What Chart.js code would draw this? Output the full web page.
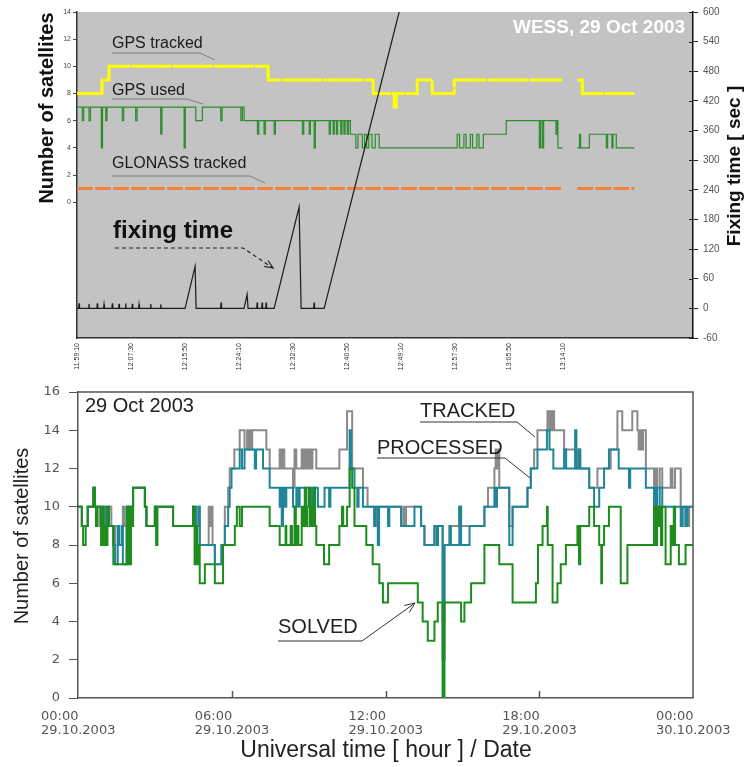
<!DOCTYPE html>
<html>
<head>
<meta charset="utf-8">
<title>Number of satellites, 29 Oct 2003</title>
<script src="https://cdn.jsdelivr.net/npm/chart.js@4.4.0/dist/chart.umd.min.js"></script>
<style>
  html, body { margin: 0; padding: 0; background: #fff; }
  #wrap { position: relative; width: 747px; height: 767px; }
  #top { position: absolute; left: 0; top: 0; }
  #bottom { position: absolute; left: 0; top: 375px; }
</style>
</head>
<body>
<div id="wrap">
  <canvas id="top" width="747" height="375"></canvas>
  <canvas id="bottom" width="747" height="392"></canvas>
</div>
<script>
Chart.defaults.font.family = 'Arial, "Liberation Sans", Helvetica, sans-serif';

// top panel: seconds after 11:59:10, [t, value]
const topTickLabels = ['11:59:10', '12:07:30', '12:15:50', '12:24:10', '12:32:30',
                       '12:40:50', '12:49:10', '12:57:30', '13:05:50', '13:14:10'];
const topTickStep = 500;

const gpsTracked = [[0, 8], [231, 9], [296, 10], [1769, 9], [2741, 8], [2935, 7], [2954, 8],
  [3148, 9], [3287, 8], [3491, 9], [4491, 9], [4500, null], [4630, 9], [4676, 8], [5157, 8]];

const gpsUsed = [[0, 7], [49, 6], [62, 7], [111, 6], [125, 7], [225, 4], [236, 7], [266, 6], [278, 7],
  [419, 6], [432, 7], [543, 6], [556, 7], [775, 5], [786, 7], [991, 4], [1002, 7], [1099, 6], [1160, 7],
  [1330, 6], [1343, 7], [1516, 6], [1530, 7], [1546, 6], [1670, 5], [1682, 6], [1731, 5], [1743, 6],
  [1824, 5], [1836, 6], [2086, 5], [2098, 6], [2148, 5], [2160, 6], [2194, 4], [2206, 6], [2333, 5],
  [2345, 6], [2370, 5], [2380, 6], [2400, 5], [2412, 6], [2440, 5], [2452, 6], [2470, 5], [2480, 6],
  [2500, 5], [2512, 6], [2530, 5], [2580, 4], [2600, 5], [2640, 4], [2660, 5], [2680, 4], [2700, 5],
  [2730, 4], [2760, 5], [2796, 4], [3518, 5], [3540, 4], [3580, 5], [3600, 4], [3640, 5], [3660, 4],
  [3700, 5], [3720, 4], [3760, 5], [3972, 6], [4278, 4], [4290, 6], [4306, 4], [4318, 6], [4432, 5],
  [4444, 6], [4450, 4], [4491, 4], [4500, null], [4630, 4], [4650, 5], [4660, 4], [4741, 5], [4898, 4],
  [4910, 5], [4950, 4], [4960, 5], [4990, 4], [5157, 4]];

const glonassTracked = [[0, 1], [4491, 1], [4500, null], [4630, 1], [5157, 1]];

const fixingTime = [[0, 0], [15, 0], [19, 10], [23, 0], [107, 0], [111, 9], [115, 0], [184, 0], [188, 10],
  [192, 0], [246, 0], [250, 8], [254, 0], [323, 0], [327, 10], [331, 0], [385, 0], [389, 9], [393, 0],
  [447, 0], [451, 10], [455, 0], [508, 0], [512, 9], [516, 0], [570, 0], [574, 8], [578, 0], [678, 0],
  [682, 9], [686, 0], [771, 0], [775, 8], [779, 0], [1000, 0], [1093, 85], [1102, 0], [1329, 0],
  [1333, 12], [1337, 0], [1546, 0], [1574, 28], [1583, 0], [1663, 0], [1667, 12], [1671, 0], [1709, 0],
  [1713, 12], [1717, 0], [1746, 0], [1750, 12], [1754, 0], [1824, 0], [2055, 205], [2074, 0], [2190, 0],
  [2194, 12], [2198, 0], [2287, 0], [2981, 600]];

// bottom panel: hours UT, [h, value]
const hourTicks = [0, 6, 12, 18, 24];
const hourTickLabels = [['00:00', '29.10.2003'], ['06:00', '29.10.2003'], ['12:00', '29.10.2003'],
                        ['18:00', '29.10.2003'], ['00:00', '30.10.2003']];

const solved = [[0, 10], [0.15, 9], [0.2, 8], [0.3, 9], [0.38, 10], [0.6, 11], [0.66, 10], [0.7, 9],
  [0.76, 10], [0.9, 8], [0.95, 10], [1.0, 8], [1.05, 9], [1.1, 8], [1.15, 10], [1.2, 9], [1.38, 7],
  [1.9, 10], [1.95, 7], [2.0, 10], [2.03, 7], [2.07, 10], [2.1, 9], [2.15, 11], [2.61, 10], [2.67, 9],
  [3.0, 10], [3.05, 8], [3.1, 10], [3.71, 9], [4.49, 10], [4.55, 7], [4.6, 9], [4.65, 7], [4.7, 8],
  [4.75, 6], [4.95, 7], [5.34, 6], [5.66, 8], [6.12, 9], [6.2, 10], [6.31, 9], [6.4, 10], [7.48, 9],
  [7.87, 8], [8.1, 9], [8.13, 8], [8.3, 9], [8.35, 8], [8.45, 10], [8.5, 8], [8.55, 9], [8.6, 8],
  [8.73, 10], [8.8, 9], [8.85, 11], [8.9, 9], [8.95, 10], [9.0, 11], [9.05, 9], [9.1, 10], [9.15, 9],
  [9.2, 11], [9.25, 9], [9.3, 8], [9.6, 7], [9.8, 8], [10.2, 9], [10.3, 10], [10.35, 9], [10.5, 10],
  [10.6, 12], [10.7, 11], [10.79, 9], [11.25, 8], [11.5, 7], [11.76, 6], [11.9, 5], [12.1, 6],
  [13.26, 5], [13.45, 4], [13.65, 3], [13.91, 4], [14.04, 5], [14.23, 0], [14.3, 5], [14.95, 4],
  [15.08, 5], [15.34, 6], [15.86, 8], [16.44, 7], [16.96, 5], [17.87, 6], [17.95, 8], [18.13, 9],
  [18.3, 10], [18.33, 8], [18.52, 5], [18.71, 6], [18.84, 7], [19.04, 8], [19.49, 9], [19.55, 7],
  [19.6, 9], [19.95, 10], [20.14, 9], [20.34, 8], [20.42, 6], [20.45, 8], [20.53, 9], [20.72, 10],
  [21.18, 6], [21.44, 8], [22.48, 10], [22.55, 8], [22.6, 10], [22.65, 9], [22.7, 10], [22.75, 8],
  [22.8, 10], [22.93, 7], [23.13, 9], [23.2, 8], [23.25, 10], [23.3, 8], [23.45, 7], [23.71, 8], [24, 8]];

const processed = [[0, 10], [0.15, 9], [0.38, 10], [0.6, 11], [0.66, 10], [0.9, 9], [0.95, 10], [1.0, 9],
  [1.1, 10], [1.2, 9], [1.38, 8], [1.45, 7], [1.55, 9], [1.6, 8], [1.7, 9], [1.75, 7], [1.9, 10],
  [2.15, 11], [2.61, 10], [2.67, 9], [3.0, 10], [3.71, 9], [4.49, 10], [4.6, 9], [4.7, 10], [4.75, 8],
  [5.34, 7], [5.6, 8], [5.73, 9], [5.86, 10], [5.92, 11], [5.99, 12], [6.31, 13], [6.4, 12], [6.5, 13],
  [6.9, 12], [6.95, 13], [7.22, 12], [7.48, 11], [7.87, 10], [7.92, 11], [7.95, 9], [8.0, 11], [8.05, 10],
  [8.13, 11], [8.39, 10], [8.52, 11], [8.6, 10], [8.65, 11], [9.1, 10], [9.15, 11], [9.2, 10], [9.25, 11],
  [9.36, 10], [9.62, 11], [9.8, 10], [9.85, 11], [10.6, 14], [10.65, 12], [10.79, 11], [10.9, 10],
  [10.95, 11], [11.12, 10], [11.57, 9], [11.6, 10], [11.7, 8], [11.75, 10], [12.1, 9], [12.15, 10],
  [12.61, 9], [13.13, 10], [13.39, 9], [13.52, 8], [13.91, 9], [14.0, 8], [14.05, 9], [14.23, 2],
  [14.3, 8], [14.5, 9], [14.55, 8], [14.88, 10], [14.95, 8], [15.28, 9], [15.86, 10], [16.25, 11],
  [16.3, 10], [16.35, 11], [16.83, 8], [16.96, 10], [17.54, 11], [17.67, 12], [17.93, 13], [18.3, 14],
  [18.4, 13], [18.55, 12], [18.97, 13], [19.05, 12], [19.4, 14], [19.45, 12], [19.55, 13], [19.6, 12],
  [19.95, 11], [20.14, 10], [20.34, 11], [20.53, 12], [20.72, 13], [21.1, 12], [21.5, 11], [21.55, 12],
  [22.16, 11], [22.48, 10], [22.55, 11], [22.6, 10], [22.7, 11], [22.8, 10], [23.52, 9], [23.6, 10],
  [23.7, 9], [23.78, 10], [24, 10]];

const tracked = [[0, 10], [0.15, 9], [0.38, 10], [0.6, 11], [0.66, 10], [0.85, 9], [0.9, 10], [0.95, 9],
  [1.0, 10], [1.1, 9], [1.2, 10], [1.3, 9], [1.38, 8], [1.45, 9], [1.6, 8], [1.75, 10], [1.8, 9],
  [1.9, 10], [2.15, 11], [2.61, 10], [2.67, 9], [3.0, 10], [3.71, 9], [4.49, 10], [4.6, 9], [4.7, 10],
  [4.75, 8], [5.1, 10], [5.15, 9], [5.2, 10], [5.25, 8], [5.34, 7], [5.6, 8], [5.73, 10], [5.86, 11],
  [5.92, 12], [6.1, 13], [6.31, 14], [6.5, 13], [6.6, 14], [6.65, 13], [6.7, 14], [6.75, 13], [6.8, 14],
  [7.35, 13], [7.48, 12], [7.87, 13], [7.92, 12], [7.97, 13], [8.05, 12], [8.39, 11], [8.45, 13],
  [8.52, 12], [8.73, 13], [8.78, 12], [8.85, 13], [8.9, 12], [8.95, 13], [9.0, 12], [9.05, 13], [9.1, 12],
  [9.15, 13], [9.3, 12], [10.2, 13], [10.5, 15], [10.7, 12], [11.12, 11], [11.3, 10], [11.55, 9],
  [11.6, 10], [11.65, 9], [11.7, 10], [12.61, 9], [12.7, 10], [12.75, 9], [12.8, 10], [13.39, 9],
  [13.52, 8], [13.91, 9], [14.23, 4], [14.3, 8], [14.5, 9], [14.88, 10], [14.95, 9], [15.86, 10],
  [16.0, 11], [16.25, 12], [16.3, 13], [16.35, 12], [16.4, 13], [16.44, 11], [16.83, 9], [16.96, 10],
  [17.54, 11], [17.67, 12], [17.8, 13], [17.93, 14], [18.32, 15], [18.4, 14], [18.45, 15], [18.5, 14],
  [18.55, 15], [18.58, 14], [18.97, 13], [19.43, 12], [19.5, 13], [19.6, 12], [19.95, 11], [20.27, 12],
  [20.79, 13], [21.05, 15], [21.24, 14], [21.63, 15], [21.83, 14], [21.88, 13], [21.95, 14], [22.0, 13],
  [22.05, 14], [22.16, 12], [22.48, 11], [22.55, 12], [22.6, 11], [22.7, 12], [22.8, 11], [23.13, 12],
  [23.2, 11], [23.3, 12], [23.52, 10], [23.78, 9], [23.85, 10], [24, 10]];

function pts(pairs) {
  return pairs.map(p => ({ x: p[0], y: p[1] }));
}

function vText(c, text, x, y, font) {
  c.save();
  c.font = font;
  c.translate(x, y);
  c.rotate(-Math.PI / 2);
  c.textAlign = 'center';
  c.textBaseline = 'middle';
  c.fillText(text, 0, 0);
  c.restore();
}

function polyline(c, p) {
  c.beginPath();
  c.moveTo(p[0][0], p[0][1]);
  for (let i = 1; i < p.length; i++) c.lineTo(p[i][0], p[i][1]);
  c.stroke();
}

function arrowHead(c, x0, y0, x1, y1, size) {
  const a = Math.atan2(y1 - y0, x1 - x0);
  c.beginPath();
  c.moveTo(x1 - size * Math.cos(a - 0.4), y1 - size * Math.sin(a - 0.4));
  c.lineTo(x1, y1);
  c.lineTo(x1 - size * Math.cos(a + 0.4), y1 - size * Math.sin(a + 0.4));
  c.stroke();
}

const topDecor = {
  id: 'topDecor',
  beforeDraw(chart) {
    const a = chart.chartArea, c = chart.ctx;
    c.save();
    c.fillStyle = '#c3c3c3';
    c.fillRect(a.left, a.top, a.right - a.left, a.bottom - a.top);
    c.restore();
  },
  afterDraw(chart) {
    const c = chart.ctx, a = chart.chartArea, r = chart.scales.y2;
    c.save();
    // right axis ticks cross the axis line
    c.strokeStyle = '#222';
    c.lineWidth = 1;
    r.ticks.forEach(t => {
      const py = Math.round(r.getPixelForValue(t.value)) + 0.5;
      polyline(c, [[a.right - 4, py], [a.right, py]]);
    });

    c.fillStyle = '#111';
    vText(c, 'Number of satellites', 47, 108, 'bold 20px Arial');
    vText(c, 'Fixing time [ sec ]', 735, 166, 'bold 19px Arial');

    c.textAlign = 'left';
    c.textBaseline = 'alphabetic';
    c.fillStyle = '#fff';
    c.font = 'bold 19px Arial';
    c.fillText('WESS, 29 Oct 2003', 513, 33);

    c.fillStyle = '#1a1a1a';
    c.font = '16px Arial';
    c.fillText('GPS tracked', 112, 48);
    c.fillText('GPS used', 112, 95);
    c.fillText('GLONASS tracked', 112, 168);
    c.strokeStyle = '#7d7d7d';
    polyline(c, [[112, 53], [200, 53], [215, 60]]);
    polyline(c, [[112, 99], [187, 99], [203, 104]]);
    polyline(c, [[112, 176], [250, 176], [265, 183]]);

    c.font = 'bold 24px Arial';
    c.fillStyle = '#111';
    c.fillText('fixing time', 113, 238);
    c.strokeStyle = '#222';
    c.lineWidth = 1.2;
    c.setLineDash([4, 3]);
    polyline(c, [[115, 248], [243, 248], [273, 268]]);
    c.setLineDash([]);
    arrowHead(c, 243, 248, 273, 268, 9);
    c.restore();
  }
};

new Chart(document.getElementById('top'), {
  type: 'line',
  data: {
    datasets: [
      { label: 'fixing time', data: pts(fixingTime), yAxisID: 'y2', borderColor: '#1a1a1a',
        borderWidth: 1.2, pointRadius: 0, order: 0 },
      { label: 'GPS tracked', data: pts(gpsTracked), yAxisID: 'y', stepped: true, borderColor: '#ffff00',
        borderWidth: 3, borderDash: [40, 1], pointRadius: 0, order: 1 },
      { label: 'GPS used', data: pts(gpsUsed), yAxisID: 'y', stepped: true, borderColor: '#2e8b2e',
        borderWidth: 1.2, pointRadius: 0, order: 2 },
      { label: 'GLONASS tracked', data: pts(glonassTracked), yAxisID: 'y', borderColor: '#f0823c',
        borderWidth: 3, borderDash: [16, 2], pointRadius: 0, order: 3 }
    ]
  },
  options: {
    responsive: false,
    animation: false,
    devicePixelRatio: 1,
    layout: { padding: { top: 12, left: 0, right: 0, bottom: 0 } },
    plugins: { legend: { display: false }, tooltip: { enabled: false } },
    scales: {
      x: {
        type: 'linear', min: 0, max: 5700,
        afterFit(s) { s.height = 37; },
        afterBuildTicks(s) { s.ticks = topTickLabels.map((l, i) => ({ value: i * topTickStep })); },
        ticks: { autoSkip: false, minRotation: 90, maxRotation: 90, font: { size: 7 }, color: '#333',
                 padding: 5, callback: (v, i) => topTickLabels[i] },
        grid: { drawOnChartArea: false, drawTicks: false },
        border: { color: '#333', width: 1.5 }
      },
      y: {
        position: 'left', min: -10, max: 14,
        afterFit(s) { s.width = 77; },
        ticks: { stepSize: 2, font: { size: 7 }, color: '#444', padding: 2,
                 callback: v => (v >= 0 ? v : '') },
        grid: { drawOnChartArea: false, tickLength: 4,
                color: ctx => (ctx.tick && ctx.tick.value < 0 ? 'rgba(0,0,0,0)' : '#444') },
        border: { color: '#333', width: 1.5 }
      },
      y2: {
        position: 'right', min: -60, max: 600,
        afterFit(s) { s.width = 54; },
        ticks: { stepSize: 60, font: { size: 10 }, color: '#555', padding: 5 },
        grid: { drawOnChartArea: false, tickLength: 5, color: '#222' },
        border: { color: '#111', width: 1.5 }
      }
    }
  },
  plugins: [topDecor]
});

const bottomDecor = {
  id: 'bottomDecor',
  afterDraw(chart) {
    const a = chart.chartArea, c = chart.ctx, xs = chart.scales.x;
    c.save();
    c.strokeStyle = '#555';
    c.lineWidth = 1.5;
    polyline(c, [[a.left, a.top], [a.right, a.top], [a.right, a.bottom]]);
    hourTicks.slice(1, -1).forEach(h => {
      const px = Math.round(xs.getPixelForValue(h)) + 0.5;
      polyline(c, [[px, a.bottom], [px, a.bottom - 7]]);
    });

    c.fillStyle = '#222';
    vText(c, 'Number of satellites', 22, 161, '20px Arial');
    c.font = '23px Arial';
    c.textAlign = 'center';
    c.textBaseline = 'middle';
    c.fillText('Universal time [ hour ] / Date', 386, 376);

    c.textAlign = 'left';
    c.textBaseline = 'alphabetic';
    c.font = '20px Arial';
    c.fillText('29 Oct 2003', 85, 37);
    c.fillText('TRACKED', 420, 42);
    c.fillText('PROCESSED', 377, 79);
    c.fillText('SOLVED', 278, 258);
    c.strokeStyle = '#333';
    c.lineWidth = 1;
    polyline(c, [[420, 47], [517, 47], [535, 62]]);
    polyline(c, [[377, 83], [505, 83], [530, 103]]);
    polyline(c, [[278, 266], [362, 266], [415, 228]]);
    arrowHead(c, 362, 266, 415, 228, 11);
    c.restore();
  }
};

new Chart(document.getElementById('bottom'), {
  type: 'line',
  data: {
    datasets: [
      { label: 'SOLVED', data: pts(solved), stepped: true, borderColor: '#1e8c1e', borderWidth: 2,
        pointRadius: 0, order: 0 },
      { label: 'PROCESSED', data: pts(processed), stepped: true, borderColor: '#1f8597', borderWidth: 2,
        pointRadius: 0, order: 1 },
      { label: 'TRACKED', data: pts(tracked), stepped: true, borderColor: '#8a8a8a', borderWidth: 2,
        pointRadius: 0, order: 2 }
    ]
  },
  options: {
    responsive: false,
    animation: false,
    devicePixelRatio: 1,
    layout: { padding: { top: 17, left: 0, right: 54, bottom: 0 } },
    plugins: { legend: { display: false }, tooltip: { enabled: false } },
    scales: {
      x: {
        type: 'linear', min: 0, max: 24,
        afterFit(s) { s.height = 69; s.paddingLeft = 0; s.paddingRight = 0; },
        afterBuildTicks(s) { s.ticks = hourTicks.map(v => ({ value: v })); },
        ticks: { autoSkip: false, maxRotation: 0, align: 'start', labelOffset: -37,
                 font: { family: '"DejaVu Sans", sans-serif', size: 13, lineHeight: 1.05 },
                 color: '#555', padding: 12,
                 callback: v => hourTickLabels[hourTicks.indexOf(v)] },
        grid: { drawOnChartArea: false, drawTicks: false },
        border: { color: '#555', width: 1.5 }
      },
      y: {
        min: 0, max: 16,
        afterFit(s) { s.width = 78; },
        ticks: { stepSize: 2, font: { family: '"DejaVu Sans", sans-serif', size: 13 }, color: '#555',
                 padding: 9 },
        grid: { drawOnChartArea: false, tickLength: 9, color: '#555' },
        border: { color: '#555', width: 1.5 }
      }
    }
  },
  plugins: [bottomDecor]
});
</script>
</body>
</html>
